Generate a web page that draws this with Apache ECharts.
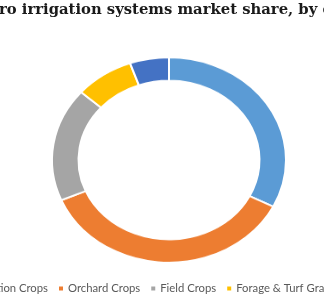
<!DOCTYPE html>
<html><head><meta charset="utf-8">
<script src="https://cdn.jsdelivr.net/npm/echarts@6/dist/echarts.min.js"></script>
<style>
html,body{margin:0;padding:0;background:#fff;}
#wrap{position:relative;width:324px;height:300px;overflow:hidden;}
#a,#b{position:absolute;left:0;top:0;width:324px;height:300px;}
#b{transform-origin:169px 160px;transform:scale(1,0.877);}
</style></head>
<body><div id="wrap"><div id="a"></div><div id="b"></div></div>
<script>
const titleText = 'Micro irrigation systems market share, by crop type';
const categories = ['Plantation Crops', 'Orchard Crops', 'Field Crops', 'Forage & Turf Grasses', 'Others'];
const shares = [32.5, 36.1, 17.9, 8.1, 5.4];
const colors = ['#5B9BD5', '#ED7D31', '#A5A5A5', '#FFC000', '#4472C4'];

const data = categories.map((c, i) => ({ name: c, value: shares[i] }));

function textW(s, font) {
  const cv = document.createElement('canvas').getContext('2d');
  cv.font = font;
  return cv.measureText(s).width;
}
const titleFont = 'bold 14.8px "DejaVu Serif"';
const legFont = '11.3px Lato';
const titleLeft = -textW('Mic', titleFont) - 1;
const legLeft = 48 - textW(categories[0], legFont) - 9;

const ca = echarts.init(document.getElementById('a'), null, { renderer: 'canvas' });
ca.setOption({
  animation: false,
  color: colors,
  title: {
    text: titleText, left: titleLeft, top: 3, padding: 0,
    textStyle: { fontFamily: 'DejaVu Serif', fontWeight: 'bold', fontSize: 14.8, color: '#1a1a1a' }
  },
  legend: {
    data: categories, left: legLeft, top: 283, padding: 0, width: 1200, orient: 'horizontal',
    icon: 'rect', itemWidth: 4, itemHeight: 4, itemGap: 11,
    textStyle: { fontFamily: 'Lato', fontSize: 11.3, color: '#595959' }
  },
  series: [{ type: 'pie', radius: [0, 0], center: [169, 160], label: { show: false }, silent: true, data: data }]
});

const cb = echarts.init(document.getElementById('b'), null, { renderer: 'canvas' });
cb.setOption({
  animation: false,
  color: colors,
  series: [{
    type: 'pie', radius: [90.5, 117], center: [169, 160], startAngle: 90, clockwise: true,
    label: { show: false }, labelLine: { show: false }, silent: true,
    itemStyle: { borderColor: '#fff', borderWidth: 2 },
    data: data
  }]
});
</script></body></html>
